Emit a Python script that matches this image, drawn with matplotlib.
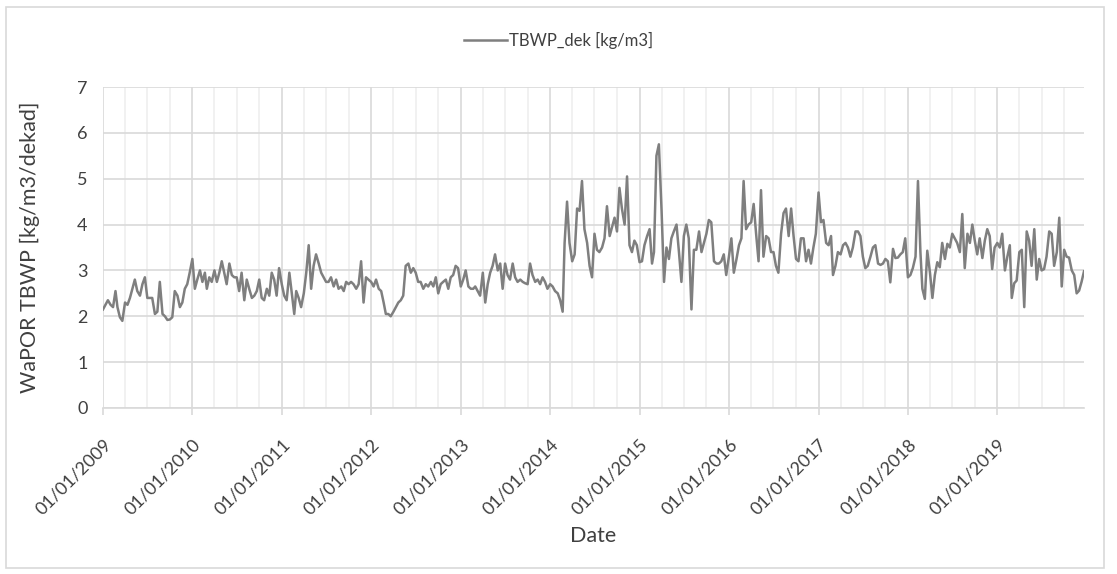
"""WaPOR dekadal TBWP time series 2009-2019, Excel-style line chart."""
from datetime import date
import matplotlib; matplotlib.use("Agg")
import matplotlib.pyplot as plt
import matplotlib.dates as mdates
from matplotlib.patches import Rectangle

plt.rcParams['font.family'] = ['Lato', 'DejaVu Sans']

years = list(range(2009, 2020))
dekad_days = [1, 11, 21]

# TBWP per dekad [kg/m3], 36 values per year
v2009 = [2.15, 2.25, 2.35, 2.25, 2.2, 2.55, 2.2, 1.98, 1.9, 2.3, 2.25, 2.4, 2.6, 2.8, 2.55, 2.45, 2.7, 2.85,
         2.4, 2.4, 2.4, 2.05, 2.1, 2.75, 2.05, 2.0, 1.92, 1.93, 1.98, 2.55, 2.45, 2.2, 2.3, 2.6, 2.7, 2.95]
v2010 = [3.25, 2.6, 2.8, 3.0, 2.75, 2.95, 2.6, 2.85, 2.75, 3.0, 2.75, 2.95, 3.2, 2.95, 2.7, 3.15, 2.9, 2.85,
         2.85, 2.55, 2.95, 2.35, 2.8, 2.6, 2.4, 2.45, 2.55, 2.8, 2.4, 2.35, 2.6, 2.45, 2.95, 2.8, 2.45, 3.05]
v2011 = [2.7, 2.45, 2.35, 2.95, 2.5, 2.05, 2.55, 2.4, 2.2, 2.5, 2.95, 3.55, 2.6, 3.1, 3.35, 3.15, 2.95, 2.85,
         2.75, 2.75, 2.85, 2.65, 2.8, 2.6, 2.65, 2.55, 2.75, 2.7, 2.75, 2.7, 2.6, 2.7, 3.2, 2.3, 2.85, 2.8]
v2012 = [2.75, 2.65, 2.8, 2.6, 2.55, 2.3, 2.05, 2.05, 2.0, 2.1, 2.2, 2.3, 2.35, 2.45, 3.1, 3.15, 2.95, 3.05,
         2.95, 2.75, 2.75, 2.6, 2.7, 2.65, 2.75, 2.65, 2.85, 2.5, 2.7, 2.75, 2.8, 2.6, 2.85, 2.9, 3.1, 3.05]
v2013 = [2.65, 2.8, 3.0, 2.65, 2.6, 2.6, 2.65, 2.55, 2.45, 2.95, 2.3, 2.7, 2.95, 3.1, 3.35, 3.0, 3.15, 2.6,
         3.15, 2.9, 2.8, 3.15, 2.85, 2.75, 2.8, 2.75, 2.72, 2.7, 3.15, 2.9, 2.75, 2.8, 2.7, 2.85, 2.75, 2.6]
v2014 = [2.7, 2.65, 2.55, 2.5, 2.35, 2.1, 3.6, 4.5, 3.6, 3.2, 3.35, 4.35, 4.3, 4.95, 3.9, 3.6, 3.1, 2.85,
         3.8, 3.45, 3.4, 3.5, 3.7, 4.4, 3.75, 3.95, 4.15, 3.85, 4.8, 4.35, 4.0, 5.05, 3.55, 3.4, 3.65, 3.55]
v2015 = [3.18, 3.2, 3.55, 3.75, 3.9, 3.15, 3.4, 5.5, 5.75, 4.3, 2.75, 3.5, 3.25, 3.7, 3.85, 4.0, 3.4, 2.75,
         3.75, 4.0, 3.7, 2.15, 3.45, 3.45, 3.85, 3.4, 3.6, 3.8, 4.1, 4.05, 3.2, 3.15, 3.15, 3.2, 3.35, 2.9]
v2016 = [3.3, 3.7, 2.95, 3.25, 3.55, 3.7, 4.95, 3.9, 4.0, 4.05, 4.45, 3.8, 3.2, 4.75, 3.3, 3.75, 3.7, 3.4,
         3.4, 3.1, 2.95, 3.8, 4.25, 4.35, 3.75, 4.35, 3.75, 3.25, 3.2, 3.7, 3.7, 3.2, 3.45, 3.15, 3.5, 3.8]
v2017 = [4.7, 4.05, 4.1, 3.6, 3.55, 3.75, 2.9, 3.1, 3.4, 3.35, 3.55, 3.6, 3.5, 3.3, 3.5, 3.85, 3.85, 3.75,
         3.3, 3.05, 3.1, 3.3, 3.5, 3.55, 3.15, 3.12, 3.15, 3.25, 3.2, 2.74, 3.47, 3.27, 3.28, 3.35, 3.4, 3.7]
v2018 = [2.85, 2.9, 3.05, 3.3, 4.95, 3.4, 2.6, 2.38, 3.43, 2.95, 2.4, 2.9, 3.18, 3.07, 3.6, 3.25, 3.58, 3.5,
         3.8, 3.7, 3.6, 3.4, 4.23, 3.05, 3.8, 3.6, 4.0, 3.65, 3.35, 3.7, 3.27, 3.65, 3.9, 3.75, 3.03, 3.5]
v2019 = [3.6, 3.5, 3.8, 3.0, 3.3, 3.55, 2.4, 2.72, 2.78, 3.4, 3.45, 2.2, 3.85, 3.65, 3.1, 3.9, 2.8, 3.25,
         3.0, 3.03, 3.3, 3.85, 3.8, 3.1, 3.4, 4.15, 2.65, 3.45, 3.3, 3.28, 3.0, 2.9, 2.5, 2.56, 2.75, 2.98]

values = v2009 + v2010 + v2011 + v2012 + v2013 + v2014 + v2015 + v2016 + v2017 + v2018 + v2019
dates = [date(y, m, d) for y in years for m in range(1, 13) for d in dekad_days]

W, H = 1117, 574
fig = plt.figure(figsize=(W / 100, H / 100), dpi=100)
ax = fig.add_axes([103 / W, 1 - 408 / H, (1084 - 103) / W, (408 - 87) / H])

ax.plot(dates, values, color="#7f7f7f", lw=1.8, label="TBWP_dek [kg/m3]", zorder=3)

ax.set_xlim(dates[0], dates[-1])
ax.set_ylim(0, 7)
ax.set_yticks(range(0, 8))
ax.xaxis.set_major_locator(mdates.YearLocator())
ax.xaxis.set_major_formatter(mdates.DateFormatter("%d/%m/%Y"))
ax.xaxis.set_minor_locator(mdates.MonthLocator(bymonth=[4, 7, 10]))

ax.grid(which="major", color="#d9d9d9", lw=1.2, zorder=1)
ax.grid(which="minor", axis="x", color="#eeeeee", lw=1.1, zorder=0)
for s in ["top", "right", "left"]:
    ax.spines[s].set_visible(False)
ax.spines["bottom"].set_color("#d9d9d9")
ax.spines["bottom"].set_linewidth(1.2)

txt = "#404040"
ax.tick_params(axis="x", which="major", length=5, width=1.2, color="#d9d9d9", labelsize=13,
               labelcolor=txt, pad=15)
ax.tick_params(axis="x", which="minor", length=0)
ax.tick_params(axis="y", length=0, labelsize=13, labelcolor=txt, pad=11)
plt.setp(ax.get_xticklabels(), rotation=45, ha="right", va="top", rotation_mode="anchor")

ax.set_xlabel("Date", fontsize=15.5, color=txt, labelpad=6)
ax.set_ylabel("WaPOR TBWP [kg/m3/dekad]", fontsize=15.5, color=txt, labelpad=27)

fig.legend(loc="center", bbox_to_anchor=(0.5, 1 - 40 / H), frameon=False, fontsize=12,
           handlelength=2.6, handletextpad=0.15, labelcolor=txt)

# chart area frame
fig.patches.append(Rectangle((6 / W, 1 - 568 / H), (1104 - 6) / W, (568 - 7) / H,
                             transform=fig.transFigure, fill=False, ec="#d9d9d9", lw=1.2))

fig.savefig("out.png", dpi=100)
